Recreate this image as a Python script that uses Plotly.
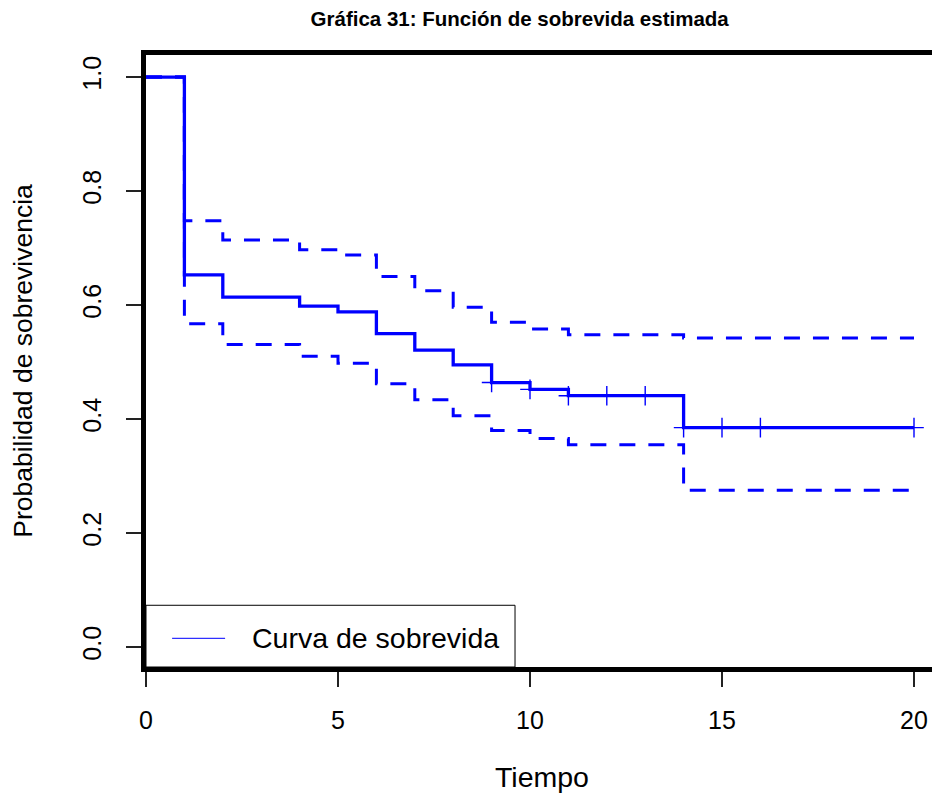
import numpy as np
import plotly.graph_objects as go

# ---- data ----
tiempos = [0, 1, 2, 4, 5, 6, 7, 8, 9, 10, 11, 14, 20]
supervivencia = [1.0, 0.653, 0.614, 0.598, 0.588, 0.550, 0.521, 0.495, 0.464, 0.452, 0.441, 0.385, 0.385]
ic_superior = [1.0, 0.748, 0.714, 0.697, 0.688, 0.650, 0.625, 0.596, 0.570, 0.558, 0.548, 0.542, 0.542]
ic_inferior = [1.0, 0.567, 0.531, 0.510, 0.498, 0.462, 0.434, 0.406, 0.380, 0.366, 0.355, 0.275, 0.275]
tiempos_censura = [9, 10, 11, 12, 13, 14, 15, 16, 20]
x_ticks = [0, 5, 10, 15, 20]
y_ticks = [0.0, 0.2, 0.4, 0.6, 0.8, 1.0]
y_tick_labels = ["0.0", "0.2", "0.4", "0.6", "0.8", "1.0"]

titulo = "<b>Gráfica 31: Función de sobrevida estimada</b>"
etiqueta_leyenda = "Curva de sobrevida"

# survival value at each censoring time (step function evaluation)
idx = np.searchsorted(tiempos, tiempos_censura, side="right") - 1
s_censura = [supervivencia[i] for i in idx]

AZUL = "#0000FF"
FONT = "Liberation Sans, Arial, sans-serif"

fig = go.Figure()

fig.add_trace(go.Scatter(x=tiempos, y=ic_superior, mode="lines", line_shape="hv",
                         line=dict(color=AZUL, width=3, dash="16px,13px"),
                         showlegend=False, name="IC superior"))
fig.add_trace(go.Scatter(x=tiempos, y=ic_inferior, mode="lines", line_shape="hv",
                         line=dict(color=AZUL, width=3, dash="16px,13px"),
                         showlegend=False, name="IC inferior"))
fig.add_trace(go.Scatter(x=tiempos, y=supervivencia, mode="lines", line_shape="hv",
                         line=dict(color=AZUL, width=3.3),
                         showlegend=False, name=etiqueta_leyenda))
fig.add_trace(go.Scatter(x=tiempos_censura, y=s_censura, mode="markers",
                         marker=dict(symbol="cross-thin", size=14,
                                     line=dict(color=AZUL, width=1.4)),
                         showlegend=False, name="Censura"))

# legend box (R style) drawn in data coordinates
leg_x0, leg_x1, leg_y0, leg_y1 = 0, 9.61, -0.035, 0.0733
fig.add_shape(type="rect", x0=leg_x0, x1=leg_x1, y0=leg_y0, y1=leg_y1,
              line=dict(color="black", width=1), fillcolor="white", layer="above")
fig.add_shape(type="line", x0=0.68, x1=2.06, y0=0.0153, y1=0.0153,
              line=dict(color="#3030ff", width=1.2), layer="above")
fig.add_annotation(x=2.7, y=0.0153, text=etiqueta_leyenda, showarrow=False,
                   xanchor="left", yanchor="middle",
                   font=dict(family=FONT, size=28.5, color="black"))

# thin light right border
fig.add_shape(type="line", xref="paper", yref="paper", x0=1, x1=1, y0=0, y1=1,
              line=dict(color="#cfcfcf", width=1))

# page body has an 8px margin; figure sized to fit the 940x796 window
fig.update_layout(
    width=932, height=788,
    margin=dict(l=138, r=2, t=47, b=129),
    paper_bgcolor="white", plot_bgcolor="white",
    showlegend=False,
    title=dict(text=titulo, x=0.549, xanchor="center", y=1 - 11 / 788, yanchor="middle",
               yref="container", font=dict(family=FONT, size=20.5, color="black")),
    font=dict(family=FONT, color="black"),
)

fig.update_xaxes(
    range=[0, 20.625], tickvals=x_ticks, ticktext=[str(t) for t in x_ticks],
    showgrid=False, zeroline=False,
    showline=True, linewidth=4.5, linecolor="black", mirror=True,
    ticks="outside", ticklen=15, tickwidth=1.5, tickcolor="#222222",
    tickfont=dict(family=FONT, size=25, color="black"),
    ticklabelstandoff=12,
    title=dict(text="Tiempo", font=dict(family=FONT, size=28.5, color="black"), standoff=36),
    automargin=False,
)
fig.update_yaxes(
    range=[-0.035, 1.0387], tickvals=y_ticks, ticktext=y_tick_labels,
    showgrid=False, zeroline=False,
    showline=True, linewidth=4.5, linecolor="black", mirror=False,
    ticks="outside", ticklen=15, tickwidth=1.5, tickcolor="#222222",
    tickangle=-90,
    tickfont=dict(family=FONT, size=25, color="black"),
    ticklabelstandoff=15,
    title=dict(text="Probabilidad de sobrevivencia", font=dict(family=FONT, size=26.5, color="black"), standoff=46),
    automargin=False,
)

fig.write_html("out.html")
